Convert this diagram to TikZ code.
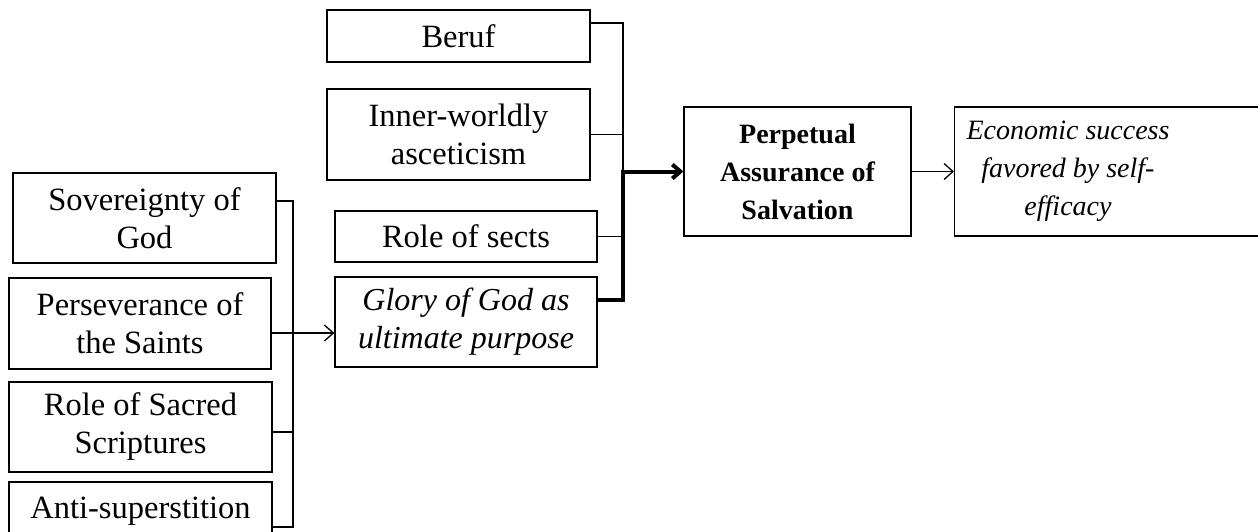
\documentclass[tikz,border=0pt]{standalone}
\usepackage{fontspec}
\setmainfont{Liberation Serif}
\usetikzlibrary{arrows.meta}
\begin{document}
\begin{tikzpicture}[x=1pt,y=-1pt,
  txt/.style={inner sep=0pt, align=center, font=\fontsize{32.5}{38}\selectfont},
  smalltxt/.style={inner sep=0pt, align=center, font=\fontsize{28}{38}\selectfont},
  box/.style={txt, draw, line width=1.3pt},
  smallbox/.style={smalltxt, draw, line width=1.3pt},
  thinline/.style={line width=1.3pt},
  thickline/.style={line width=4pt},
  arr/.style={-{Straight Barb[length=9pt,width=16pt]}},
  arrthick/.style={-{Straight Barb[length=8pt,width=14pt]}}]
\useasboundingbox (0,0) rectangle (1258,532);
% left column
\node[box, minimum width=263pt, minimum height=90pt] (sov) at (144.5,218) {Sovereignty of\\God};
\node[box, minimum width=262pt, minimum height=91pt] (pers) at (140,323.5) {Perseverance of\\the Saints};
\node[box, minimum width=263pt, minimum height=90pt] (sacred) at (140.5,427) {Role of Sacred\\Scriptures};
\node[draw, line width=1.3pt, inner sep=0pt, minimum width=263pt, minimum height=100pt] (antibox) at (140.5,532) {};
\node[txt] (anti) at (140.5,511) {Anti-superstition};
% middle column
\node[box, minimum width=263pt, minimum height=52pt] (beruf) at (458.5,36) {Beruf};
\node[box, minimum width=263pt, minimum height=91pt] (inner) at (458.5,134.5) {Inner-worldly\\asceticism};
\node[box, minimum width=262pt, minimum height=51pt] (sects) at (466,236.5) {Role of sects};
\node[box, minimum width=262pt, minimum height=90pt, font=\fontsize{32}{38}\selectfont\itshape] (glory) at (466,322) {Glory of God as\\ultimate purpose};
% right
\node[smallbox, minimum width=227pt, minimum height=129pt, font=\fontsize{28}{38}\selectfont\bfseries] (perp) at (797.5,171.5) {Perpetual\\Assurance of\\Salvation};
\node[draw, line width=1.3pt, inner sep=0pt, minimum width=330pt, minimum height=129pt, anchor=west] (econbox) at (954,171.5) {};
\node[smalltxt, font=\fontsize{28}{38}\selectfont\itshape] (econ) at (1068,171.5) {Economic success\\favored by self-\\efficacy};
% left bracket
\coordinate (lt) at (293,201);
\coordinate (lb) at (293,527);
\draw[thinline] ([yshift=17pt]sov.east) -- (lt) -- (lb) -- ([yshift=5pt]antibox.east);
\draw[thinline] ([yshift=-5pt]sacred.east) -- ([yshift=-5pt]sacred.east -| lt);
\draw[thinline, arr] ([yshift=-9.5pt]pers.east) -- ([yshift=-9.5pt]pers.east -| glory.west);
% middle bracket
\coordinate (mj) at (623,171.5);
\draw[thinline] ([yshift=13pt]beruf.east) -| (mj);
\draw[thinline] (inner.east) -- (inner.east -| mj);
\draw[thinline] (sects.east) -- (sects.east -| mj);
\draw[thickline, arrthick] ([yshift=22pt]glory.east) -| (mj) -- (perp.west);
% right arrow
\draw[thinline, arr] (perp.east) -- (econbox.west);
\end{tikzpicture}
\end{document}
